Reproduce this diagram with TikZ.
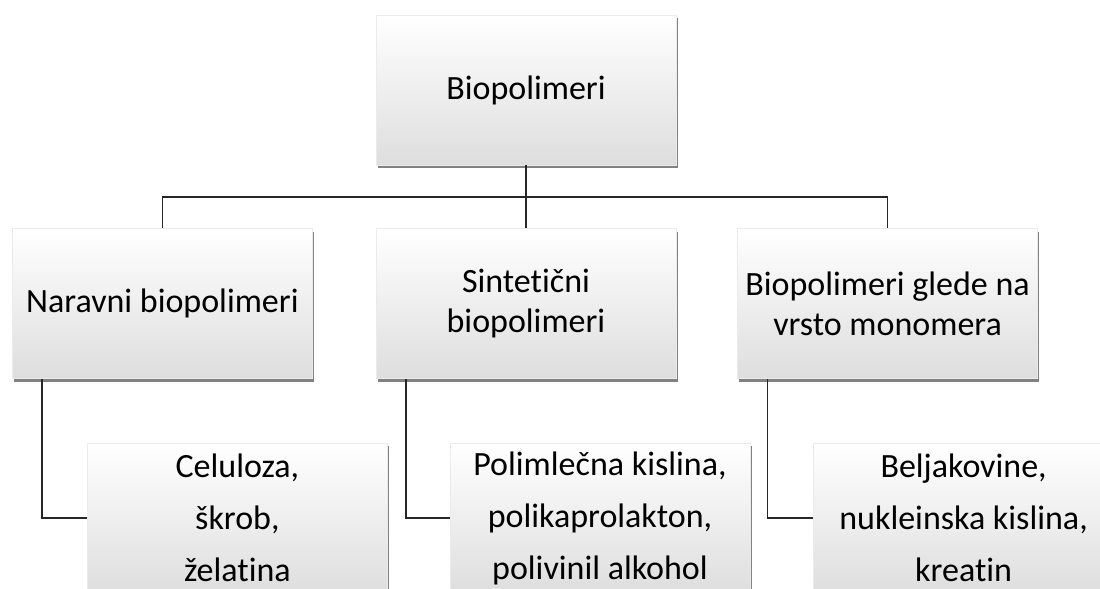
\documentclass[tikz,border=0pt]{standalone}
\usepackage{fontspec}
\setmainfont[Ligatures=NoCommon, Contextuals=NoAlternate, RawFeature=-clig]{Carlito}
\usetikzlibrary{positioning,shadows}

\begin{document}
\begin{tikzpicture}[
  box/.style={shade, top color=white, middle color=white, bottom color=black!13,
    draw=black!8, line width=0.3pt, align=center,
    minimum width=150pt, minimum height=75pt, inner sep=2pt,
    drop shadow={shadow xshift=0.8pt, shadow yshift=-1.6pt, opacity=0.7, fill=black!70},
    font=\fontsize{17}{20}\selectfont},
  item/.style={box, font=\fontsize{17}{26}\selectfont},
  link/.style={line width=0.8pt, black!85}
]
\useasboundingbox (0,0) rectangle (550pt,-294.5pt);

\node[box] (bio) at (263pt,-45pt) {Biopolimeri};
\node[box, below=31.5pt of bio] (sin) {Sintetični\\biopolimeri};
\node[box, left=31.5pt of sin] (nat) {Naravni biopolimeri};
\node[box, right=30.5pt of sin] (mono) {Biopolimeri glede na\\vrsto monomera};

\node[item, below=32pt of nat, xshift=37.5pt] (natx) {Celuloza,\\škrob,\\želatina};
\node[item, below=32pt of sin, xshift=37pt] (sinx) {Polimlečna kislina,\\polikaprolakton,\\polivinil alkohol};
\node[item, below=32pt of mono, xshift=38pt] (monox) {Beljakovine,\\nukleinska kislina,\\kreatin};

\draw[link] (bio.south) -- ++(0,-15.7pt) coordinate (bus);
\draw[link] (bus) -| (nat.north);
\draw[link] (bus) -| (mono.north);
\draw[link] (bus) -- (sin.north);

\draw[link] ([xshift=15pt]nat.south west) |- (natx.west);
\draw[link] ([xshift=15pt]sin.south west) |- (sinx.west);
\draw[link] ([xshift=15pt]mono.south west) |- (monox.west);
\end{tikzpicture}
\end{document}
